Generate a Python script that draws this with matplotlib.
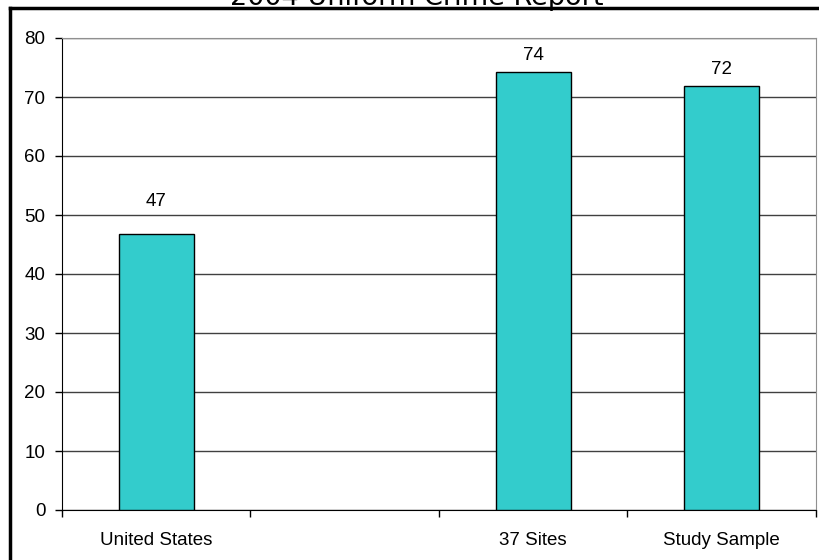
import matplotlib
matplotlib.use("Agg")
import matplotlib.pyplot as plt
from matplotlib.lines import Line2D
import numpy as np

title = "2004 Uniform Crime Report"
categories = ["United States", "", "37 Sites", "Study Sample"]
values = [46.7, None, 74.3, 71.9]
value_labels = ["47", "", "74", "72"]
yticks = [0, 10, 20, 30, 40, 50, 60, 70, 80]

bar_color = "#33CCCC"
label_pad = [24, 0, 8, 8]  # pixel gap between bar top and value label

fig = plt.figure(figsize=(8.2, 5.6), dpi=100)
ax = fig.add_axes([62 / 820, 1 - 510 / 560, (816 - 62) / 820, (510 - 38) / 560])

x = np.arange(len(categories))
for i, v in enumerate(values):
    if v is None:
        continue
    ax.bar(x[i], v, width=0.4, color=bar_color, edgecolor="black", linewidth=1, zorder=3)
    ax.annotate(value_labels[i], (x[i], v), xytext=(0, label_pad[i] * 0.72),
                textcoords="offset points", ha="center", va="bottom",
                fontsize=13.5, family="Liberation Sans")

ax.set_xlim(-0.5, len(categories) - 0.5)
ax.set_ylim(0, 80)
ax.set_yticks(yticks)
ax.set_yticklabels([str(t) for t in yticks], fontsize=13.5, family="Liberation Sans")
ax.yaxis.grid(True, color="#404040", linewidth=1, zorder=0)

ax.set_xticks(x)
ax.set_xticklabels(categories, fontsize=13.5, family="Liberation Sans")
ax.set_xticks(np.arange(len(categories) + 1) - 0.5, minor=True)
ax.tick_params(axis="x", which="major", length=0, pad=16)
ax.tick_params(axis="x", which="minor", length=5, width=1, direction="out")
ax.tick_params(axis="y", length=5, width=1, direction="out", pad=7)

ax.spines["left"].set_color("black")
ax.spines["bottom"].set_color("black")
ax.spines["top"].set_color("#909090")
ax.spines["right"].set_color("#909090")

fig.text(417 / 820, 1 - 5 / 560, title, ha="center", va="baseline",
         fontsize=19.5, family="DejaVu Sans")

# outer frame (top and left edges visible)
fig.add_artist(Line2D([10 / 820, 1], [1 - 7.5 / 560, 1 - 7.5 / 560],
                      transform=fig.transFigure, color="black", linewidth=2.5))
fig.add_artist(Line2D([10 / 820, 10 / 820], [0, 1 - 7.5 / 560],
                      transform=fig.transFigure, color="black", linewidth=2.5))

fig.savefig("out.png", dpi=100)
